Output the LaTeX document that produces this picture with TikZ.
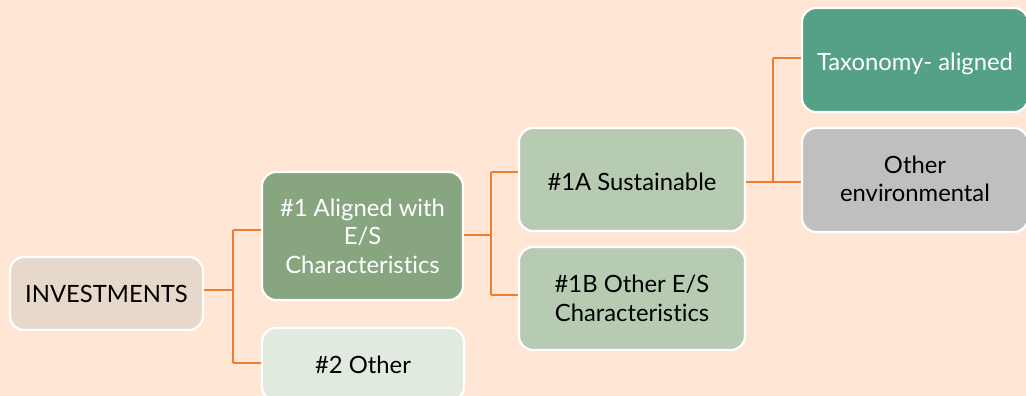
\documentclass[tikz,border=0pt]{standalone}
\usepackage{fontspec}
\setmainfont{Lato}[Ligatures={NoCommon,NoRare}]
\definecolor{bgpeach}{HTML}{FFE6D5}
\definecolor{invfill}{HTML}{E6D9CB}
\definecolor{alfill}{HTML}{87A57F}
\definecolor{othfill}{HTML}{E0EADF}
\definecolor{susfill}{HTML}{B7CBB3}
\definecolor{taxfill}{HTML}{55A186}
\definecolor{envfill}{HTML}{BFBFBF}
\definecolor{conn}{HTML}{ED7D31}
\newcommand{\lowertext}[2]{\raisebox{-#1}[\height][\depth]{#2}}
\tikzset{
  box/.style={draw=white, line width=2.2pt, rounded corners=14pt, align=center, inner sep=0pt, font=\fontsize{23.8}{28.5}\selectfont, text=black},
  link/.style={draw=conn, line width=1.6pt}
}
\begin{document}
\begin{tikzpicture}[x=1pt,y=-1pt]
\fill[bgpeach] (0,0) rectangle (1026,396);
\useasboundingbox (0,0) rectangle (1026,396);
\clip (0,0) rectangle (1026,396);
\node[box, fill=invfill, minimum width=193pt, minimum height=73pt] (inv) at (106.5,293.5) {INVESTMENTS};
\node[box, fill=alfill, text=white, minimum width=201pt, minimum height=128pt] (al) at (362.5,236) {\#1 Aligned with\\E/S\\Characteristics};
\node[box, fill=othfill, minimum width=202pt, minimum height=73pt] (oth) at (363,364.5) {\#2 Other};
\node[box, fill=susfill, minimum width=226pt, minimum height=103pt] (sus) at (632,179.5) {\lowertext{2pt}{\#1A Sustainable}};
\node[box, fill=susfill, minimum width=226pt, minimum height=103pt] (osc) at (632,298.5) {\#1B Other E/S\\Characteristics};
\node[box, fill=taxfill, text=white, minimum width=226pt, minimum height=104pt] (tax) at (915,60) {\lowertext{4pt}{Taxonomy- aligned}};
\node[box, fill=envfill, minimum width=226pt, minimum height=104pt] (env) at (915,180) {\lowertext{2pt}{\begin{tabular}{@{}c@{}}Other\\environmental\end{tabular}}};
\coordinate (j1) at (233,290);
\coordinate (j2) at (491,235);
\coordinate (j3) at (773,182);
\draw[link] (inv.east |- j1) -- (j1);
\draw[link] (j1 |- 0,230) -- (j1 |- 0,363);
\draw[link] (j1 |- 0,230) -- (al.west |- 0,230);
\draw[link] (j1 |- 0,363) -- (oth.west |- 0,363);
\draw[link] (al.east |- j2) -- (j2);
\draw[link] (j2 |- 0,172) -- (j2 |- 0,295);
\draw[link] (j2 |- 0,172) -- (sus.west |- 0,172);
\draw[link] (j2 |- 0,295) -- (osc.west |- 0,295);
\draw[link] (sus.east |- j3) -- (j3);
\draw[link] (j3 |- 0,58) -- (j3);
\draw[link] (j3 |- 0,58) -- (tax.west |- 0,58);
\draw[link] (j3) -- (env.west |- j3);
\end{tikzpicture}
\end{document}
